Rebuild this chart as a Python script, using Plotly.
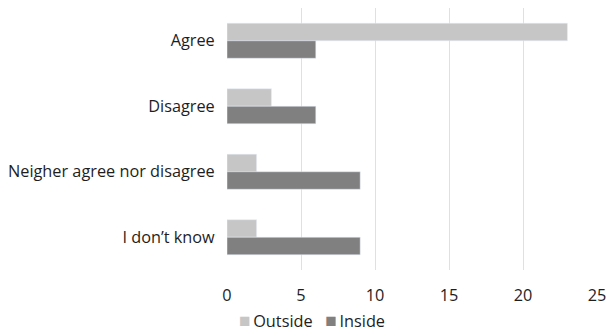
import plotly.graph_objects as go

categories = ["Agree", "Disagree", "Neigher agree nor disagree", "I don’t know"]
outside = [23, 3, 2, 2]
inside = [6, 6, 9, 9]
x_ticks = [0, 5, 10, 15, 20, 25]
series_names = ["Outside", "Inside"]
series_colors = ["#c6c6c6", "#808080"]

font = dict(family="Open Sans, sans-serif", size=16.3, color="#1e1e1e")

fig = go.Figure()
for name, vals, col in zip(series_names, [outside, inside], series_colors):
    fig.add_trace(go.Bar(y=categories, x=vals, name=name, orientation="h",
                         marker=dict(color=col), showlegend=False))

legend_text = "&nbsp;&nbsp;&nbsp;".join(
    f"<span style='color:{c};font-size:19px'>■</span>&#8201;{n}"
    for n, c in zip(series_names, series_colors)
)
fig.add_annotation(text=legend_text, xref="paper", yref="paper", x=0.5, y=-0.19,
                   xanchor="center", yanchor="middle", showarrow=False,
                   font=font, xshift=-100, borderpad=0)

fig.update_layout(
    width=614, height=336,
    margin=dict(l=227, r=10, t=8, b=66),
    barmode="group", bargap=0.465, bargroupgap=0,
    plot_bgcolor="white", paper_bgcolor="white",
    font=font,
    xaxis=dict(range=[0, 25], tickvals=x_ticks, showgrid=True, gridcolor="#e0e0e0",
               gridwidth=1, zeroline=False, showline=False, ticks="outside",
               ticklen=10, tickcolor="rgba(0,0,0,0)"),
    yaxis=dict(autorange="reversed", showgrid=False, showline=False, ticks="outside",
               ticklen=8, tickcolor="rgba(0,0,0,0)"),
    showlegend=False,
)
fig.write_html("out.html")
